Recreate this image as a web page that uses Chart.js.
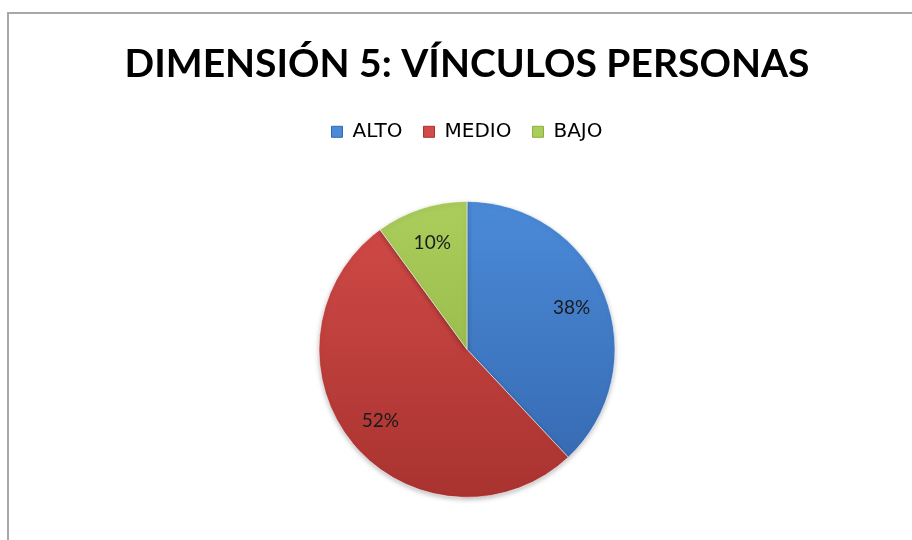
<!DOCTYPE html>
<html>
<head>
<meta charset="utf-8">
<script src="https://cdn.jsdelivr.net/npm/chart.js@4"></script>
<style>
  body { margin: 0; background: #fff; overflow: hidden; }
  #wrap { position: relative; width: 912px; height: 540px; }
  #marco { position: absolute; left: 7px; top: 12px; width: 1000px; height: 1000px;
           border-left: 2px solid #a8a8a8; border-top: 2px solid #a8a8a8; }
  canvas { position: absolute; left: 0; top: 0; }
</style>
</head>
<body>
<div id="wrap">
  <div id="marco"></div>
  <canvas id="graficoDim5" width="912" height="540"></canvas>
</div>
<script>
// Dimensión 5: vínculos personas
const categorias = ['ALTO', 'MEDIO', 'BAJO'];
const porcentajes = [38, 52, 10];
const coloresArriba = ['#4b8ad8', '#d24b48', '#aacd5c'];
const coloresAbajo = ['#3467ae', '#a93330', '#8bae3e'];

// etiquetas de porcentaje dentro de cada porción
const etiquetasPie = {
  id: 'etiquetasPie',
  afterDatasetsDraw(chart) {
    const ctx = chart.ctx;
    const meta = chart.getDatasetMeta(0);
    ctx.save();
    ctx.font = '19px Lato';
    ctx.fillStyle = '#1a1a1a';
    ctx.textAlign = 'center';
    ctx.textBaseline = 'middle';
    meta.data.forEach((arc, i) => {
      const p = arc.getProps(['x', 'y', 'startAngle', 'endAngle', 'outerRadius'], true);
      const medio = (p.startAngle + p.endAngle) / 2;
      const r = p.outerRadius * 0.76;
      ctx.fillText(porcentajes[i] + '%', p.x + Math.cos(medio) * r, p.y + Math.sin(medio) * r);
    });
    ctx.restore();
  }
};

const sombraPie = {
  id: 'sombraPie',
  beforeDatasetsDraw(chart) {
    const ctx = chart.ctx;
    ctx.save();
    ctx.shadowColor = 'rgba(0,0,0,0.25)';
    ctx.shadowBlur = 5;
    ctx.shadowOffsetY = 2;
  },
  afterDatasetsDraw(chart) {
    chart.ctx.restore();
  }
};

// un poco más de espacio debajo de la leyenda
const espacioLeyenda = {
  id: 'espacioLeyenda',
  beforeInit(chart) {
    const fitOrig = chart.legend.fit;
    chart.legend.fit = function () {
      fitOrig.call(this);
      this.height += 7;
    };
  }
};

function degradado(context, i) {
  const chart = context.chart;
  const area = chart.chartArea;
  if (!area) return coloresArriba[i];
  const cy = (area.top + area.bottom) / 2;
  const g = chart.ctx.createLinearGradient(0, cy - 148, 0, cy + 148);
  g.addColorStop(0, coloresArriba[i]);
  g.addColorStop(1, coloresAbajo[i]);
  return g;
}

const dataDim5 = {
  labels: categorias,
  datasets: [{
    data: porcentajes,
    backgroundColor: (context) => degradado(context, context.dataIndex),
    borderColor: 'rgba(255,255,255,0.55)',
    borderWidth: 1,
    radius: 148,
  }]
};

const configDim5 = {
  type: 'pie',
  data: dataDim5,
  options: {
    responsive: false,
    animation: false,
    layout: { padding: { top: 0, bottom: 0, left: 22, right: 0 } },
    plugins: {
      title: {
        display: true,
        text: 'DIMENSIÓN 5: VÍNCULOS PERSONAS',
        color: '#000',
        font: { family: 'Lato', size: 39, weight: 'bold' },
        padding: { top: 41, bottom: 13 }
      },
      legend: {
        position: 'top',
        labels: {
          color: '#404040',
          font: { family: 'DejaVu Sans', size: 20 },
          boxWidth: 11,
          boxHeight: 11,
          padding: 21,
          generateLabels(chart) {
            return categorias.map((c, i) => ({
              text: c,
              fillStyle: coloresArriba[i],
              strokeStyle: coloresAbajo[i],
              lineWidth: 1,
              index: i,
              hidden: false
            }));
          }
        }
      },
      tooltip: { enabled: false }
    }
  },
  plugins: [espacioLeyenda, sombraPie, etiquetasPie]
};

const myChart = new Chart(document.getElementById('graficoDim5'), configDim5);
</script>
</body>
</html>
